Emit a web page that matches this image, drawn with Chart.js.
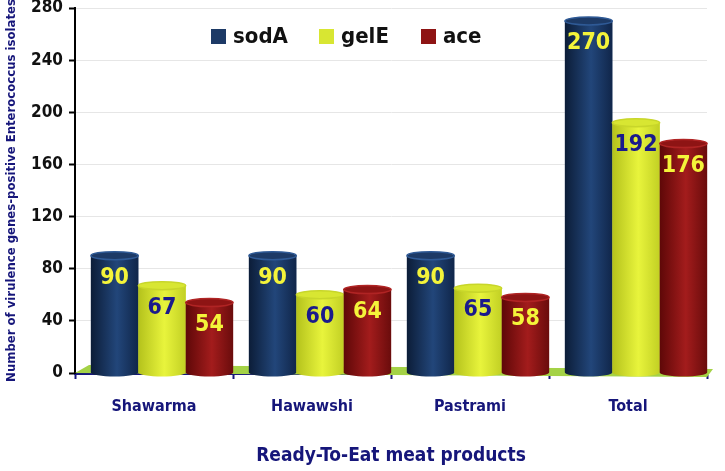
<!DOCTYPE html>
<html>
<head>
<meta charset="utf-8">
<script src="https://cdn.jsdelivr.net/npm/chart.js@4"></script>
<style>
  html, body { margin: 0; padding: 0; background: #fff; }
  #wrap { width: 725px; height: 471px; }
</style>
</head>
<body>
<div id="wrap"><canvas id="genes"></canvas></div>
<script>
var products = ["Shawarma", "Hawawshi", "Pastrami", "Total"];
var sodA = [90, 90, 90, 270];
var gelE = [67, 60, 65, 192];
var ace = [54, 64, 58, 176];
var yTicks = [0, 40, 80, 120, 160, 200, 240, 280];

var FONT = "'DejaVu Sans Condensed', 'Liberation Sans Narrow', sans-serif";
var NAVY = "#16167a";

// left edge / middle / right edge, cap, label colour
var looks = [
    { shade: ["#0c1d38", "#22467a", "#10264a"], cap: "#1d3a66", rim: "#2f5a96", text: "#f4f43a" },
    { shade: ["#b4c21c", "#e8f43c", "#c2d024"], cap: "#d8e632", rim: "#c8d62a", text: "#1a1a8c" },
    { shade: ["#5e0808", "#a31c1c", "#6a0c0c"], cap: "#8e1414", rim: "#b02424", text: "#f4f43a" }
];

var cylinders = {
    id: "cylinders",
    beforeDatasetsDraw: function (chart) {
        var ctx = chart.ctx, a = chart.chartArea;
        // green floor
        ctx.save();
        ctx.fillStyle = "#a4d246";
        ctx.beginPath();
        ctx.moveTo(a.left, a.bottom);
        ctx.lineTo(a.left + 14, a.bottom - 8);
        ctx.lineTo(a.right + 6, a.bottom - 4);
        ctx.lineTo(a.right, a.bottom + 4);
        ctx.closePath();
        ctx.fill();
        ctx.restore();
        ctx.save();
        ctx.translate(8, 0);
    },
    afterDatasetsDraw: function (chart) {
        var ctx = chart.ctx;
        chart.data.datasets.forEach(function (ds, i) {
            var look = looks[i];
            chart.getDatasetMeta(i).data.forEach(function (bar, j) {
                var w = bar.width, l = bar.x - w / 2, r = bar.x + w / 2;
                var top = bar.y, base = bar.base, ry = 4;
                var g = ctx.createLinearGradient(l, 0, r, 0);
                g.addColorStop(0, look.shade[0]);
                g.addColorStop(0.55, look.shade[1]);
                g.addColorStop(1, look.shade[2]);
                ctx.fillStyle = g;
                ctx.beginPath();
                ctx.moveTo(l, top);
                ctx.lineTo(l, base);
                ctx.ellipse(bar.x, base, w / 2, ry, 0, Math.PI, 0, true);
                ctx.lineTo(r, top);
                ctx.closePath();
                ctx.fill();
                ctx.beginPath();
                ctx.ellipse(bar.x, top, w / 2, ry, 0, 0, Math.PI * 2);
                ctx.fillStyle = look.cap;
                ctx.fill();
                ctx.lineWidth = 1.5;
                ctx.strokeStyle = look.rim;
                ctx.stroke();
                ctx.fillStyle = look.text;
                ctx.font = "bold 23px " + FONT;
                ctx.textAlign = "center";
                ctx.textBaseline = "middle";
                ctx.fillText(ds.data[j], bar.x, top + 22);
            });
        });
        ctx.restore();
        // legend
        var lx = [211, 319, 421], ly = 36;
        ctx.save();
        ctx.font = "bold 22px " + FONT;
        ctx.textBaseline = "middle";
        ctx.textAlign = "left";
        chart.data.datasets.forEach(function (ds, i) {
            ctx.fillStyle = ds.backgroundColor;
            ctx.fillRect(lx[i], ly - 7, 15, 15);
            ctx.fillStyle = "#111";
            ctx.fillText(ds.label, lx[i] + 22, ly + 1);
        });
        ctx.restore();
    }
};

new Chart(document.getElementById("genes"), {
    type: "bar",
    data: {
        labels: products,
        datasets: [
            { label: "sodA", data: sodA, backgroundColor: "#1d3a66" },
            { label: "gelE", data: gelE, backgroundColor: "#d8e632" },
            { label: "ace", data: ace, backgroundColor: "#8e1414" }
        ]
    },
    options: {
        responsive: true,
        maintainAspectRatio: false,
        animation: false,
        layout: { padding: { top: 8, right: 18, left: 0, bottom: 0 } },
        categoryPercentage: 0.9,
        barPercentage: 1,
        plugins: { legend: { display: false }, tooltip: { enabled: false } },
        scales: {
            x: {
                grid: { drawOnChartArea: false, offset: true, tickLength: 6, tickColor: NAVY, tickWidth: 2 },
                border: { color: NAVY, width: 3 },
                ticks: { color: NAVY, font: { family: FONT, size: 16, weight: "bold" }, padding: 18 },
                title: {
                    display: true,
                    text: "Ready-To-Eat meat products",
                    color: NAVY,
                    font: { family: FONT, size: 19, weight: "bold" },
                    padding: { top: 22 }
                },
                afterFit: function (s) { s.height = 98; }
            },
            y: {
                min: 0,
                max: 280,
                afterBuildTicks: function (s) { s.ticks = yTicks.map(function (v) { return { value: v }; }); },
                grid: { color: "#e6e6e6", tickColor: "#000", tickLength: 6, tickWidth: 2 },
                border: { color: "#000", width: 2 },
                ticks: { color: "#111", font: { family: FONT, size: 17, weight: "bold" }, padding: 6 },
                title: {
                    display: true,
                    text: "Number of virulence genes-positive Enterococcus isolates",
                    color: NAVY,
                    font: { family: FONT, size: 13, weight: "bold" },
                    padding: { bottom: 4 }
                },
                afterFit: function (s) { s.width = 75; s.paddingTop = 0; s.paddingBottom = 0; }
            }
        }
    },
    plugins: [cylinders]
});
</script>
</body>
</html>
